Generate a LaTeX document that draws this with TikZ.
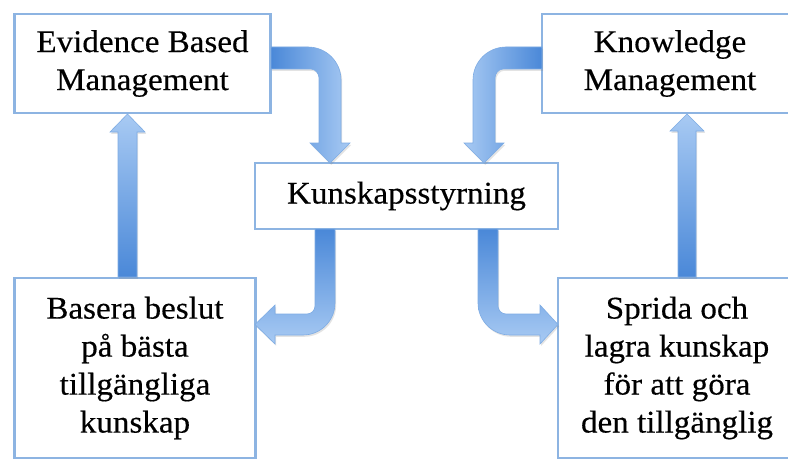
\documentclass[tikz,border=0pt]{standalone}
\usepackage{fontspec}
\setmainfont[FakeStretch=1.05,FakeBold=0.35]{Liberation Serif}
\usetikzlibrary{shadows}
\definecolor{boxblue}{HTML}{8DB4E2}
\definecolor{arrdark}{HTML}{4A88D8}
\definecolor{arrlight}{HTML}{A8CAF3}
\definecolor{arredge}{HTML}{7EACE4}
\begin{document}
\begin{tikzpicture}[x=1pt,y=-1pt,
  box/.style={draw=boxblue, line width=2.2pt, fill=white, inner sep=0pt, align=center,
    font=\fontsize{31.5}{38}\selectfont},
  blockarrow/.style={draw=arredge, line width=0.6pt,
    drop shadow={opacity=0.22,shadow xshift=1.2pt,shadow yshift=-1.8pt}}]
\useasboundingbox (0,0) rectangle (788,460);
\clip (0,0) rectangle (788,460);
\fill[white] (0,0) rectangle (788,460);
% boxes
\node[box, minimum width=256pt, minimum height=99pt] (ebm) at (142.5,63.5) {Evidence Based\\Management};
\node[box, minimum width=256pt, minimum height=99pt] (km) at (670,63.5) {Knowledge\\Management};
\node[box, minimum width=303pt, minimum height=66pt] (ks) at (406.5,196) {Kunskapsstyrning};
\node[box, minimum width=241pt, minimum height=180pt] (bl) at (135,368) {Basera beslut\\på bästa\\tillgängliga\\kunskap};
\node[box, minimum width=238pt, minimum height=180pt] (br) at (677,368) {Sprida och\\lagra kunskap\\för att göra\\den tillgänglig};
% block arrows
% EBM -> Kunskapsstyrning
\path[blockarrow, left color=arrdark, right color=arrlight]
  (271,47) -- (308,47) .. controls (326.2,47) and (341,61.8) .. (341,80) -- (341,143)
  -- (350,143) -- (330,163) -- (310,143) -- (319,143) -- (319,78)
  .. controls (319,73.6) and (315.4,69) .. (311,69) -- (271,69) -- cycle;
% KM -> Kunskapsstyrning
\path[blockarrow, right color=arrdark, left color=arrlight]
  (542,47) -- (506,47) .. controls (487.8,47) and (473,61.8) .. (473,80) -- (473,143)
  -- (464,143) -- (484,163) -- (504,143) -- (495,143) -- (495,78)
  .. controls (495,73.6) and (498.6,69) .. (503,69) -- (542,69) -- cycle;
% Kunskapsstyrning -> BL
\path[blockarrow, top color=arrdark, bottom color=arrlight]
  (315,229) -- (335,229) -- (335,303) .. controls (335,320.7) and (320.7,335) .. (303,335)
  -- (275,335) -- (275,344) -- (255,324.5) -- (275,305) -- (275,314) -- (307,314)
  .. controls (311.4,314) and (315,310.4) .. (315,306) -- cycle;
% Kunskapsstyrning -> BR
\path[blockarrow, top color=arrdark, bottom color=arrlight]
  (498,229) -- (478,229) -- (478,303) .. controls (478,320.7) and (492.3,335) .. (510,335)
  -- (540,335) -- (540,344) -- (558,324.5) -- (540,305) -- (540,314) -- (506,314)
  .. controls (501.6,314) and (498,310.4) .. (498,306) -- cycle;
% BL -> EBM
\path[blockarrow, bottom color=arrdark, top color=arrlight]
  (118,277) -- (118,132) -- (110,132) -- (127.5,114) -- (145,132) -- (137,132) -- (137,277) -- cycle;
% BR -> KM
\path[blockarrow, bottom color=arrdark, top color=arrlight]
  (678,277) -- (678,131) -- (670,131) -- (687,114) -- (704,131) -- (696,131) -- (696,277) -- cycle;
\end{tikzpicture}
\end{document}
